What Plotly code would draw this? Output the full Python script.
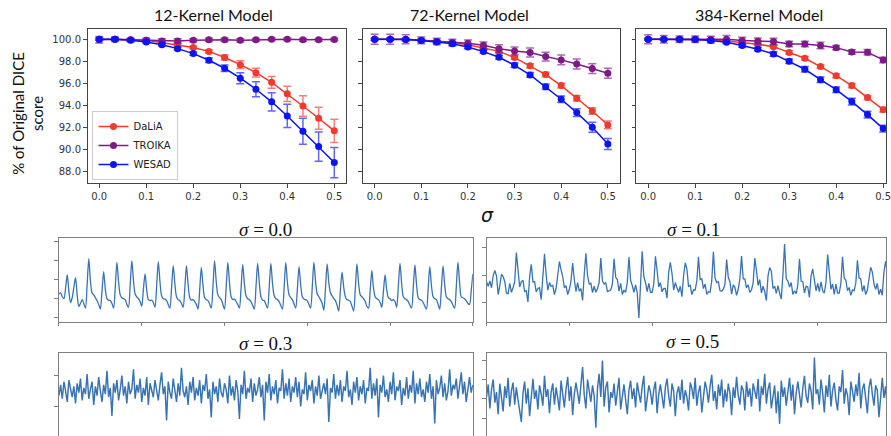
import plotly.graph_objects as go

# ---------------- data: top row (DICE score vs noise sigma) ----------------
sigma = [0.0, 0.0333, 0.0667, 0.1, 0.1333, 0.1667, 0.2, 0.2333, 0.2667, 0.3,
         0.3333, 0.3667, 0.4, 0.4333, 0.4667, 0.5]
series_names = ["DaLiA", "TROIKA", "WESAD"]

k12_dalia = [100.0, 100.0, 99.95, 99.9, 99.7, 99.5, 99.25, 98.9, 98.35, 97.7, 96.97, 96.1, 95.05, 93.95, 92.84, 91.7]
k12_dalia_err = [0.1, 0.1, 0.1, 0.1, 0.1, 0.1, 0.12, 0.15, 0.23, 0.35, 0.4, 0.53, 0.7, 0.93, 1.0, 1.06]
k12_troika = [99.95, 100.0, 99.95, 99.9, 99.85, 99.85, 99.9, 99.95, 99.95, 99.9, 99.95, 100.0, 100.0, 99.95, 99.95, 99.98]
k12_troika_err = [0.3, 0.2, 0.15, 0.2, 0.2, 0.2, 0.15, 0.15, 0.15, 0.15, 0.12, 0.12, 0.12, 0.12, 0.12, 0.12]
k12_wesad = [100.0, 100.0, 99.9, 99.75, 99.5, 99.15, 98.7, 98.1, 97.37, 96.47, 95.47, 94.33, 93.05, 91.66, 90.27, 88.82]
k12_wesad_err = [0.1, 0.1, 0.1, 0.1, 0.1, 0.12, 0.15, 0.2, 0.3, 0.5, 0.68, 0.83, 1.06, 1.18, 1.33, 1.37]

k72_dalia = [100.0, 100.0, 99.97, 99.9, 99.8, 99.7, 99.5, 99.2, 98.9, 98.34, 97.6, 96.8, 95.8, 94.65, 93.5, 92.23]
k72_dalia_err = [0.1, 0.1, 0.1, 0.1, 0.1, 0.1, 0.12, 0.12, 0.15, 0.15, 0.18, 0.2, 0.22, 0.25, 0.3, 0.35]
k72_troika = [100.0, 100.0, 100.0, 99.9, 99.8, 99.7, 99.64, 99.46, 99.15, 98.94, 98.8, 98.43, 98.13, 97.76, 97.34, 96.92]
k72_troika_err = [0.45, 0.45, 0.4, 0.3, 0.3, 0.3, 0.3, 0.3, 0.35, 0.35, 0.4, 0.4, 0.45, 0.45, 0.45, 0.45]
k72_wesad = [100.0, 100.0, 99.97, 99.88, 99.76, 99.6, 99.3, 98.88, 98.37, 97.64, 96.77, 95.7, 94.56, 93.35, 92.02, 90.5]
k72_wesad_err = [0.1, 0.1, 0.1, 0.1, 0.12, 0.12, 0.15, 0.15, 0.18, 0.2, 0.22, 0.25, 0.3, 0.35, 0.45, 0.5]

k384_dalia = [100.0, 100.0, 100.0, 100.0, 99.94, 99.85, 99.7, 99.55, 99.33, 98.8, 98.28, 97.52, 96.7, 95.8, 94.71, 93.62]
k384_dalia_err = [0.1, 0.1, 0.1, 0.1, 0.1, 0.1, 0.12, 0.12, 0.12, 0.15, 0.15, 0.15, 0.18, 0.2, 0.2, 0.22]
k384_troika = [100.0, 100.0, 100.0, 100.0, 99.97, 100.0, 99.88, 99.82, 99.8, 99.58, 99.58, 99.43, 99.24, 98.85, 98.82, 98.13]
k384_troika_err = [0.4, 0.35, 0.3, 0.3, 0.3, 0.35, 0.3, 0.3, 0.3, 0.25, 0.25, 0.3, 0.2, 0.2, 0.25, 0.25]
k384_wesad = [100.0, 100.0, 100.0, 99.97, 99.88, 99.73, 99.43, 99.1, 98.67, 98.0, 97.28, 96.34, 95.43, 94.35, 93.17, 91.9]
k384_wesad_err = [0.1, 0.1, 0.1, 0.1, 0.1, 0.12, 0.15, 0.15, 0.2, 0.2, 0.25, 0.25, 0.25, 0.3, 0.3, 0.3]

y_ticks_pct = [88, 90, 92, 94, 96, 98, 100]
x_ticks_sigma = [0.0, 0.1, 0.2, 0.3, 0.4, 0.5]
panel_titles = ["12-Kernel Model", "72-Kernel Model", "384-Kernel Model"]

# ---------------- data: bottom row (PPG signal with added noise) ----------------
# clean signal (sigma = 0.0), one sample every 4 time units
sig0 = [
    1.25, 1.30, 1.10, 1.00, 1.55,
    2.25, 1.40, 0.80, 1.05, 1.60,
    2.10, 1.20, 0.60, 0.75, 0.95, 0.75, 0.50, 1.70,
    3.10, 1.95, 1.30, 1.20, 1.05, 0.90, 0.70, 0.45, 1.40,
    2.42, 1.50, 1.00, 0.92, 0.90, 0.75, 0.50, 1.60,
    2.91, 1.90, 1.20, 1.05, 1.00, 0.95, 0.70, 0.55, 1.70,
    3.00, 1.95, 1.25, 1.10, 1.00, 0.85, 0.60, 1.50,
    2.30, 1.45, 0.95, 0.90, 0.92, 0.80, 0.55, 1.65,
    2.95, 1.90, 1.15, 1.00, 0.98, 0.90, 0.70, 0.50, 1.55,
    2.74, 1.80, 1.10, 0.95, 0.90, 0.75, 0.55, 1.50,
    2.74, 1.75, 1.05, 0.92, 0.95, 0.85, 0.70, 0.45, 1.45,
    2.65, 1.70, 1.05, 0.95, 0.90, 0.72, 0.50, 1.60,
    2.98, 1.90, 1.20, 1.05, 0.95, 0.70, 0.45, 1.60,
    2.90, 1.85, 1.10, 0.95, 0.98, 0.85, 0.70, 0.50, 1.55,
    2.80, 1.80, 1.15, 1.00, 0.95, 0.85, 0.65, 0.45, 1.60,
    2.86, 1.85, 1.10, 0.92, 0.90, 0.70, 0.50, 1.60,
    2.86, 1.80, 1.15, 1.00, 0.95, 0.85, 0.65, 0.45, 1.55,
    2.90, 1.85, 1.20, 1.05, 0.95, 0.72, 0.50, 1.50,
    2.69, 1.75, 1.10, 0.98, 0.95, 0.88, 0.70, 0.50, 1.60,
    2.91, 1.90, 1.25, 1.10, 0.95, 0.75, 0.40, 1.55,
    2.83, 1.85, 1.30, 1.15, 1.00, 0.90, 0.65, 0.35, 1.45,
    2.40, 1.60, 1.10, 0.95, 0.92, 0.85, 0.60, 0.35, 1.50,
    2.83, 1.80, 1.20, 1.10, 1.00, 0.85, 0.60, 0.50, 1.45,
    2.47, 1.55, 1.10, 1.00, 0.95, 0.80, 0.55, 1.40,
    2.25, 1.45, 1.05, 1.00, 0.90, 0.95, 0.85, 0.55, 1.65,
    2.86, 1.80, 1.10, 1.00, 0.95, 0.85, 0.65, 0.50, 1.55,
    2.77, 1.75, 1.05, 0.95, 0.92, 0.80, 0.60, 0.45, 1.50,
    2.69, 1.70, 1.10, 1.00, 0.95, 0.70, 0.45, 1.55,
    2.72, 1.75, 1.10, 1.00, 0.95, 0.85, 0.65, 0.50, 1.60,
    2.91, 1.85, 1.10, 1.05, 1.00, 0.90, 0.75, 0.70, 1.40,
    2.30,
]

# noise added for sigma = 0.1 (hundredths of the signal unit)
noise01 = [
    10, -25, 30, -5, 20, -15, 35, -30, 5, 25, -40, 15, 0, -20, 30, -10, 45, -35, 20, -5,
    -30, 15, 40, -20, 5, -45, 25, 10, -15, 35, -25, 0, 20, -35, 15, 30, -10, -40, 25, 5,
    15, -20, 35, -5, -30, 20, 45, -15, 10, -35, 25, -10, 30, 5, -25, 40, -20, 10, -45, 20,
    30, -15, 5, 25, -35, 15, -5, 40, -25, 20, -40, 10, 35, -20, 0, 25, -30, 15, -10, 45,
    -20, 30, -35, 10, 20, -15, 35, -25, 5, -30, 25, -10, -157, 15, 40, -20, 10, -35, 30, -5,
    20, -40, 15, 25, -10, 35, -30, 5, 20, -25, 45, -15, 10, -35, 30, 0, -20, 40, -10, 15,
    -25, 35, -5, 20, -40, 10, 30, -20, 15, -30, 40, -10, 25, -35, 5, 20, -15, 45, -25, 10,
    30, -20, 0, 35, -30, 15, -10, 25, -45, 20, 10, -25, 35, -5, 15, -35, 30, -15, 20, -10,
    40, -30, 10, 25, -20, 35, -40, 15, 5, -25, 30, -10, 45, -20, 10, -35, 25, 0, -15, 35,
    104, -25, 20, -10, 30, -35, 15, 5, -30, 40, -15, 25, -40, 10, 20, -25, 35, -5, 15, -30,
    25, -20, 40, -10, 5, -35, 30, 15, -25, 20, -45, 35, -5, 10, -30, 25, -15, 40, -20, 5,
    -35, 20, 30, -25, 10, -10, 45, -30, 15, -20, 35, 0, -40, 25, 10, -15, 30, -35, 20, -5,
    40, -20, 15, -30, 25, 5, -35, 30, -10, 20, -15,
]

# sigma = 0.3 signal (hundredths)
sig03 = [
    40, 75, 30, 85, 55, 20, 90, 60, 35, 70, 15, 80, 50, 95, 25, 65, 45, 110, 30, 60,
    85, 10, 70, 40, 100, 55, 20, 75, 45, 120, 35, 65, -25, 80, 50, 90, 25, 60, 105, 40,
    70, 15, 85, 45, 60, 125, 30, 75, 50, 95, 20, 65, 40, 100, 10, 80, 55, 35, 90, 60,
    25, 75, 115, 45, 70, -40, 85, 50, 30, 95, 60, 20, 80, 40, 130, 55, 35, 70, 10, 85,
    50, 100, 25, 65, 40, 90, 15, 75, 55, 110, 30, 60, -30, 85, 45, 70, 20, 95, 50, 35,
    80, 60, 15, 105, 40, 70, 25, 90, 55, -35, 75, 45, 120, 30, 65, 50, 95, 20, 80, 40,
    60, 100, 35, 75, -40, 85, 50, 110, 25, 70, 45, 90, 15, 65, 55, 125, 30, 80, 40, 95,
    20, 70, 50, 100, 35, 85, 5, 60, 45, 115, 25, 75, 55, 90, 15, 70, 40, 105, 30, 60,
    80, 45, 95, -45, 65, 50, 110, 30, 75, 40, 90, 20, 70, 55, 120, 35, 60, 10, 85, 50,
    100, 25, 70, 45, 90, 15, 65, 55, 130, 30, 80, 40, 95, -30, 75, 50, 105, 35, 60, 20,
    85, 45, 115, 25, 70, 55, 90, 10, 65, 40, 100, 30, 75, 50, 120, 15, 80, 45, 95, 35,
    60, 20, 85, 50, 110, 30, 70, -50, 90, 45, 65, 105, 35, 80, 25, 55, 125, 40, 75, 60,
    95, 30, 70, 115, 45, 85, 20, 65, 100, 50, 75,
]

# sigma = 0.5 signal (hundredths)
sig05 = [
    20, 85, -40, 60, 110, -10, 45, -70, 90, 30, -55, 75, 15, 120, -30, 50, 95, -20, 70, 5,
    -60, -110, 40, 100, -15, 65, -80, 25, 115, 10, 55, -45, 80, 35, -25, 130, 20, 60, -65, 45,
    90, -20, 70, 15, -50, 105, 40, -35, 60, 125, 0, 75, -75, 35, 95, 50, -15, 85, 175, 30,
    -40, 110, 55, -5, 80, 25, -140, 65, 140, 20, 210, -30, 70, 100, -60, 45, 15, 90, -25, 60,
    120, -45, 30, 85, 5, -70, 55, 105, 10, 65, -35, 95, 40, -10, 75, 130, -55, 20, 80, 45,
    -20, 60, 100, -65, 35, 85, 15, -40, 70, 115, 25, -30, 90, 50, -80, 40, 75, 5, 110, -15,
    55, 20, -50, 95, 65, 10, 120, -25, 45, 80, -60, 30, 100, 60, -10, 75, 135, 0, 50, -45,
    85, 25, 110, -35, 60, -5, 90, 40, -75, 70, 15, 125, 30, -20, 80, 55, -50, 100, 20, 65,
    -30, 90, 45, 10, 115, -55, 75, 30, 140, -15, 60, 95, -40, 35, 80, -65, 50, -120, 105, 20,
    70, -25, 55, 120, 0, 85, -70, 40, 100, 15, -35, 65, 130, 25, -10, 90, 50, -45, 225, 35,
    60, -20, 110, 40, -60, 80, 20, 135, -30, 55, 95, 5, -50, 75, 45, 160, -15, 65, 30, -75,
    100, 50, -5, 85, 25, 145, -40, 60, 90, 10, -65, 70, 115, 35, -25, 80, 55, -85, 40, 120,
    15, 75, -35, 105, 45, -10, 90, 30, -55, 65, 20,
]
sample_step = 4  # time units per sample
bottom_titles = ["σ = 0.0", "σ = 0.1", "σ = 0.3", "σ = 0.5"]

# ---------------- figure ----------------
W, H = 891, 436
colors = {"DaLiA": "#f03a2e", "TROIKA": "#7d1a87", "WESAD": "#0a14f5"}
err_colors = {"DaLiA": "rgba(240,58,46,0.65)", "TROIKA": "rgba(125,26,135,0.65)",
              "WESAD": "rgba(10,20,245,0.65)"}

def px_x(p):
    return p / W

def px_y(p):
    return 1 - p / H

fig = go.Figure()

panels = [
    {"DaLiA": (k12_dalia, k12_dalia_err), "TROIKA": (k12_troika, k12_troika_err), "WESAD": (k12_wesad, k12_wesad_err)},
    {"DaLiA": (k72_dalia, k72_dalia_err), "TROIKA": (k72_troika, k72_troika_err), "WESAD": (k72_wesad, k72_wesad_err)},
    {"DaLiA": (k384_dalia, k384_dalia_err), "TROIKA": (k384_troika, k384_troika_err), "WESAD": (k384_wesad, k384_wesad_err)},
]
for i, pdata in enumerate(panels):
    ax = "" if i == 0 else str(i + 1)
    for name in series_names:
        vals, errs = pdata[name]
        fig.add_trace(go.Scatter(
            x=sigma, y=vals, name=name, mode="lines+markers",
            line=dict(color=colors[name], width=1.5),
            marker=dict(color=colors[name], size=7),
            error_y=dict(type="data", array=errs, visible=True, color=err_colors[name],
                         thickness=1.5, width=4),
            showlegend=(i == 0), xaxis="x" + ax, yaxis="y" + ax))

n = len(sig0)
t = [k * sample_step for k in range(n)]
sig01 = [s + e / 100 for s, e in zip(sig0, noise01)]
line_col = "#3873b3"
fig.add_trace(go.Scatter(x=t, y=sig0, mode="lines", line=dict(color=line_col, width=1.3, shape="spline", smoothing=0.8),
                         showlegend=False, xaxis="x4", yaxis="y4"))
fig.add_trace(go.Scatter(x=t, y=sig01, mode="lines", line=dict(color=line_col, width=1.3),
                         showlegend=False, xaxis="x5", yaxis="y5"))
fig.add_trace(go.Scatter(x=t, y=sig03, mode="lines", line=dict(color=line_col, width=1.45),
                         showlegend=False, xaxis="x6", yaxis="y6"))
fig.add_trace(go.Scatter(x=t, y=sig05, mode="lines", line=dict(color=line_col, width=1.45),
                         showlegend=False, xaxis="x7", yaxis="y7"))

top_axis = dict(showline=True, mirror=True, linecolor="#444", linewidth=1, ticks="outside",
                ticklen=3.5, tickcolor="#444", showgrid=False, zeroline=False,
                tickfont=dict(family="DejaVu Sans", size=10, color="#333"))
bot_axis = dict(showline=True, mirror=True, linecolor="#808080", linewidth=1, ticks="outside",
                ticklen=3.5, tickcolor="#808080", showgrid=False, zeroline=False,
                showticklabels=False)

top_y_dom = [px_y(183), px_y(29)]
x_doms = [[px_x(88), px_x(348)], [px_x(365), px_x(623)], [px_x(640), 1.0]]
x_ranges = [[-0.025, 0.525], [-0.025, 0.525], [-0.025, 0.506]]
layout = {}
for i in range(3):
    ax = "" if i == 0 else str(i + 1)
    layout["xaxis" + ax] = dict(top_axis, domain=x_doms[i], range=x_ranges[i], tickvals=x_ticks_sigma,
                                tickformat=".1f", anchor="y" + ax, ticklabeloverflow="allow")
    layout["yaxis" + ax] = dict(top_axis, domain=top_y_dom, range=[86.97, 100.93], tickvals=y_ticks_pct,
                                tickformat=".1f", ticksuffix="%", showticklabels=(i == 0), anchor="x" + ax)

left_dom = [px_x(59.3), px_x(475.5)]
right_dom = [px_x(489.3), 1.0]
row1 = [px_y(321.5), px_y(238)]
row2 = [0.0, px_y(353.3)]
tvals = [0, 200, 400, 600, 800, 1000]
layout["xaxis4"] = dict(bot_axis, domain=left_dom, range=[0, 1000], tickvals=tvals, anchor="y4")
layout["yaxis4"] = dict(bot_axis, domain=row1, range=[-0.2, 4.19], tickvals=[0, 1, 2, 3, 4], anchor="x4")
layout["xaxis5"] = dict(bot_axis, domain=right_dom, range=[0, 965], tickvals=tvals, anchor="y5")
layout["yaxis5"] = dict(bot_axis, domain=row1, range=[-1.3, 4.27], tickvals=[-0.05, 1.8, 3.65], anchor="x5")
layout["xaxis6"] = dict(bot_axis, domain=left_dom, range=[0, 1000], ticks="", anchor="y6")
layout["yaxis6"] = dict(bot_axis, domain=row2, range=[-90, 176.6], tickvals=[6.6, 106.6], anchor="x6")
layout["xaxis7"] = dict(bot_axis, domain=right_dom, range=[0, 965], ticks="", anchor="y7")
layout["yaxis7"] = dict(bot_axis, domain=row2, range=[-183, 247], tickvals=[-89.5, 14, 112.5, 211], anchor="x7")

annotations = []
for (txt, cx) in zip(panel_titles, [215, 472, 763]):
    annotations.append(dict(text=txt, x=px_x(cx), y=px_y(15), xref="paper", yref="paper",
                            showarrow=False, xanchor="center", yanchor="middle",
                            font=dict(family="Lato", size=16, color="#111")))
annotations.append(dict(text="% of Original DICE<br>score", x=px_x(28), y=px_y(113), xref="paper", yref="paper",
                        showarrow=False, textangle=-90, xanchor="center", yanchor="middle",
                        font=dict(family="Lato", size=15, color="#111")))
annotations.append(dict(text="<i>σ</i>", x=px_x(490), y=px_y(215), xref="paper", yref="paper",
                        showarrow=False, xanchor="center", yanchor="middle",
                        font=dict(family="DejaVu Sans", size=19, color="#111")))
for txt, (cx, cy) in zip(bottom_titles, [(267, 229), (697, 229), (267, 343), (696, 341)]):
    sym, rest = txt.split(" ", 1)
    annotations.append(dict(text="<i>" + sym + "</i> " + rest, x=px_x(cx), y=px_y(cy), xref="paper", yref="paper",
                            showarrow=False, xanchor="center", yanchor="middle",
                            font=dict(family="Liberation Serif", size=19, color="#111")))

fig.update_layout(
    width=W, height=H, margin=dict(l=0, r=0, t=0, b=0),
    plot_bgcolor="white", paper_bgcolor="white",
    annotations=annotations,
    legend=dict(x=px_x(93), y=px_y(111), xanchor="left", yanchor="top",
                bgcolor="rgba(255,255,255,0.9)", bordercolor="#cccccc", borderwidth=1,
                font=dict(family="DejaVu Sans", size=10, color="#222"),
                itemwidth=30, tracegroupgap=0),
    **layout,
)

fig.write_html("out.html")
